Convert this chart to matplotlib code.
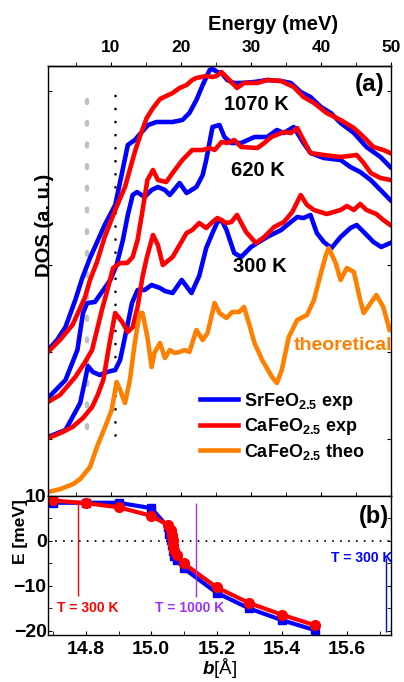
import numpy as np
import matplotlib
matplotlib.use("Agg")
import matplotlib.pyplot as plt
from matplotlib.ticker import MultipleLocator

plt.rcParams['font.family'] = ['Liberation Sans', 'DejaVu Sans']
plt.rcParams['font.weight'] = 'bold'
plt.rcParams['mathtext.fontset'] = 'custom'
plt.rcParams['mathtext.rm'] = 'Liberation Sans:bold'
plt.rcParams['mathtext.it'] = 'Liberation Sans:italic:bold'
plt.rcParams['mathtext.bf'] = 'Liberation Sans:bold'
plt.rcParams['lines.scale_dashes'] = False
plt.rcParams['axes.linewidth'] = 1.0

BLUE = '#0000ff'
RED = '#ff0000'
ORANGE = '#ff8000'
PURPLE = '#9b30ff'

# ---- (a) phonon DOS, stacked by temperature (energy in meV, DOS in a.u.) ----
e_sr_1070 = [1.0, 2.3, 3.5, 4.9, 5.9, 7.0, 7.7, 9.1, 10.6, 11.6, 12.4, 13.4, 14.4, 15.3, 16.5, 18.8,
             20.2, 21.2, 22.2, 23.1, 24.1, 24.5, 25.2, 25.8, 26.6, 27.6, 28.6, 30.5, 32.3, 34.3,
             35.7, 37.1, 38.5, 40.0, 41.4, 42.8, 44.7, 46.5, 48.5, 49.9]
d_sr_1070 = [14.6, 15.6, 16.9, 19.6, 21.8, 23.8, 24.9, 27.1, 29.1, 32.4, 35.1, 35.6, 36.4, 37.1, 37.4, 37.4,
             37.6, 38.3, 39.6, 41.1, 42.6, 42.7, 42.4, 42.3, 41.6, 41.3, 41.3, 41.4, 41.6, 41.5,
             41.3, 40.4, 39.9, 38.9, 38.3, 37.3, 36.3, 34.9, 33.9, 32.9]

e_ca_1070 = [1.0, 2.7, 4.5, 6.3, 7.0, 8.0, 9.1, 10.6, 12.0, 13.4, 14.1, 15.1, 16.0, 17.0, 18.8, 19.8,
             20.8, 21.6, 22.2, 23.6, 24.5, 25.1, 25.8, 26.9, 28.0, 29.0, 30.9, 32.3, 34.3, 36.1,
             37.5, 39.0, 40.8, 42.8, 44.7, 46.1, 47.5, 48.9, 49.9]
d_ca_1070 = [14.4, 15.6, 17.1, 19.9, 21.6, 23.4, 25.9, 28.6, 30.9, 34.4, 35.9, 37.8, 38.8, 39.7, 40.3, 40.8,
             41.1, 41.6, 41.8, 42.0, 41.9, 42.0, 42.4, 41.6, 40.8, 41.3, 41.3, 41.6, 41.5, 40.9,
             39.9, 39.3, 38.3, 37.6, 36.8, 35.9, 34.9, 34.6, 34.3]

e_sr_620 = [1.0, 3.5, 5.2, 6.0, 6.6, 7.7, 8.9, 9.9, 10.8, 11.7, 12.4, 13.1, 13.7, 14.8, 15.8, 16.7,
            17.7, 18.4, 19.8, 20.8, 22.2, 23.1, 23.6, 24.5, 25.5, 26.2, 27.2, 28.6, 30.5, 32.3,
            33.7, 34.7, 36.1, 37.5, 38.5, 40.4, 42.8, 44.2, 45.6, 47.1, 48.5, 49.9]
d_sr_620 = [9.8, 11.6, 14.6, 18.3, 19.3, 19.4, 20.6, 21.6, 23.1, 25.6, 28.1, 30.1, 30.4, 29.9, 30.6, 30.9,
            30.6, 30.1, 31.3, 30.3, 30.9, 32.1, 33.6, 36.9, 37.1, 35.9, 35.3, 35.3, 35.9, 35.9,
            36.6, 36.3, 36.9, 35.3, 34.3, 33.8, 33.6, 32.9, 32.4, 31.6, 30.6, 29.6]

e_ca_620 = [1.0, 2.7, 4.9, 6.3, 7.3, 8.0, 8.7, 9.6, 10.3, 11.3, 12.3, 13.1, 13.8, 14.4, 15.2, 16.0,
            16.7, 17.9, 18.8, 20.2, 21.6, 23.1, 24.1, 24.8, 25.8, 26.6, 27.6, 28.6, 30.9, 31.9,
            32.9, 34.7, 35.7, 36.6, 37.5, 38.5, 40.4, 42.8, 45.1, 46.1, 47.1, 48.5, 49.9]
d_ca_620 = [9.4, 10.1, 11.9, 13.4, 14.6, 16.6, 18.6, 20.9, 22.8, 23.3, 23.3, 23.9, 25.6, 28.1, 31.6, 32.6,
            31.6, 31.4, 32.3, 33.6, 34.6, 34.6, 34.8, 34.6, 35.4, 35.3, 35.6, 34.9, 34.8, 35.3,
            35.9, 36.4, 36.3, 36.8, 35.6, 34.3, 34.1, 33.9, 34.1, 33.3, 32.3, 31.8, 31.6]

e_sr_300 = [1.0, 3.5, 5.6, 6.3, 6.7, 7.4, 8.4, 9.4, 10.6, 11.3, 12.0, 13.0, 13.8, 14.8, 15.8, 17.0,
            17.7, 18.8, 20.1, 21.5, 22.6, 23.6, 24.5, 25.2, 25.8, 26.5, 27.6, 28.6, 30.0, 30.9,
            32.3, 34.3, 35.7, 36.6, 37.5, 38.5, 39.4, 40.4, 41.5, 42.8, 44.2, 45.1, 46.1, 47.5,
            48.6, 49.9]
d_sr_300 = [5.9, 6.6, 9.3, 11.6, 13.0, 12.4, 12.1, 12.4, 12.6, 13.6, 15.9, 19.3, 20.6, 20.6, 21.1, 20.8,
            20.5, 20.3, 21.6, 20.3, 22.0, 24.8, 26.3, 27.4, 27.6, 26.6, 24.3, 23.9, 24.9, 25.3,
            25.9, 26.6, 27.4, 27.9, 27.8, 28.1, 26.3, 25.4, 24.8, 25.9, 26.8, 27.1, 26.4, 25.4,
            24.9, 25.3]

e_ca_300 = [1.0, 2.8, 4.5, 6.0, 7.3, 8.1, 8.9, 9.8, 10.6, 11.6, 12.4, 13.1, 13.8, 14.5, 15.1, 16.0,
            16.7, 17.4, 18.8, 19.8, 20.8, 21.6, 22.6, 23.6, 24.5, 25.2, 26.5, 27.2, 28.0, 29.3,
            30.7, 31.9, 33.3, 34.7, 35.9, 37.1, 38.0, 39.0, 40.8, 42.8, 43.7, 44.7, 45.6, 46.5,
            47.9, 48.9, 49.9]
d_ca_300 = [5.8, 6.3, 6.9, 7.8, 8.9, 10.1, 11.6, 15.3, 18.3, 17.4, 16.4, 16.9, 18.9, 21.9, 23.8, 26.1,
            25.1, 23.1, 23.9, 25.1, 26.3, 26.6, 27.3, 26.8, 27.4, 27.8, 27.3, 27.4, 28.1, 26.4,
            25.3, 25.9, 26.9, 27.4, 28.4, 30.1, 29.1, 28.6, 28.2, 28.6, 29.0, 28.6, 29.2, 28.6,
            28.2, 27.6, 27.1]

e_theo = [1.0, 2.8, 4.6, 5.6, 7.0, 8.1, 9.1, 10.1, 10.8, 11.3, 12.0, 12.7, 13.4, 14.1, 14.5, 15.2,
          15.8, 16.2, 17.0, 17.7, 18.4, 19.1, 19.8, 20.5, 21.2, 22.2, 23.1, 23.8, 24.8, 25.5,
          26.5, 27.3, 28.3, 29.0, 29.7, 30.5, 31.6, 33.0, 33.7, 34.4, 35.4, 36.6, 38.0, 39.0,
          40.0, 40.7, 41.1, 42.1, 42.8, 43.7, 44.7, 45.6, 46.1, 47.1, 47.9, 48.9, 49.8]
d_theo = [0.4, 0.7, 1.2, 1.7, 2.9, 5.1, 6.8, 8.6, 11.4, 10.6, 9.3, 11.6, 15.3, 18.3, 18.3, 15.9,
          12.9, 14.3, 15.3, 13.8, 14.6, 14.3, 14.4, 14.6, 14.4, 16.6, 15.6, 16.3, 19.3, 18.3,
          17.8, 18.4, 18.4, 18.9, 17.3, 15.3, 13.6, 11.9, 11.3, 12.6, 15.9, 17.6, 18.1, 19.6,
          22.3, 24.1, 24.8, 23.3, 21.6, 22.8, 22.4, 19.6, 18.3, 19.3, 20.1, 18.9, 16.6]

e_gray = 6.5
e_black = 10.6

# ---- (b) E vs b lattice parameter ----
b_sr = [14.7, 14.8, 14.9, 15.0, 15.05, 15.055, 15.06, 15.063, 15.066, 15.07, 15.08, 15.1, 15.2, 15.3, 15.4, 15.5]
E_sr = [8.5, 8.5, 8.5, 7.3, 3.2, 1.5, 0.3, -1.0, -2.2, -3.3, -4.3, -6.1, -11.5, -15.0, -17.6, -19.8]
b_ca = [14.7, 14.8, 14.9, 15.0, 15.05, 15.06, 15.063, 15.066, 15.068, 15.07, 15.08, 15.1, 15.2, 15.3, 15.4, 15.5]
E_ca = [9.0, 8.4, 7.5, 5.6, 3.6, 2.4, 1.3, 0.2, -0.9, -2.0, -3.1, -5.0, -10.3, -13.8, -16.4, -18.7]

b_marks = [14.776, 15.136, 15.719]
mark_lo = [-12.2, -12.4, -20.2]
mark_hi = [8.4, 8.4, -3.8]
mark_col = [RED, PURPLE, BLUE]
mark_txt = ['T = 300 K', 'T = 1000 K', 'T = 300 K']
txt_pos = [(14.806, -14.9), (15.118, -14.9), (15.643, -3.8)]

fig = plt.figure(figsize=(4.04, 6.82), dpi=100)
ax1 = fig.add_axes([48 / 404, 1 - 496 / 682, 343 / 404, 430 / 682])
ax2 = fig.add_axes([48 / 404, 1 - 635 / 682, 343 / 404, 139 / 682])

lw = 3.3
ax1.plot([e_gray, e_gray], [6.8, 39.7], color='#c0c0c0', lw=3.2, ls=(0, (2.0, 13.6)),
         dash_capstyle='round')
ax1.plot([e_black, e_black], [6.1, 40.2], color='k', lw=1.9, ls=(0, (0.1, 9.3)),
         dash_capstyle='round')

ax1.plot(e_sr_1070, d_sr_1070, color=BLUE, lw=lw, label=r'SrFeO$_{2.5}$ exp')
ax1.plot(e_sr_620, d_sr_620, color=BLUE, lw=lw)
ax1.plot(e_sr_300, d_sr_300, color=BLUE, lw=lw)
ax1.plot(e_ca_1070, d_ca_1070, color=RED, lw=lw, label=r'CaFeO$_{2.5}$ exp')
ax1.plot(e_ca_620, d_ca_620, color=RED, lw=lw)
ax1.plot(e_ca_300, d_ca_300, color=RED, lw=lw)
ax1.plot(e_theo, d_theo, color=ORANGE, lw=lw, label=r'CaFeO$_{2.5}$ theo')

ax1.text(30.7, 39.1, '1070 K', fontsize=14.5, ha='center', va='center')
ax1.text(31.0, 32.6, '620 K', fontsize=14.5, ha='center', va='center')
ax1.text(31.3, 22.9, '300 K', fontsize=14.5, ha='center', va='center')
ax1.text(43.1, 15.1, 'theoretical', fontsize=14, color=ORANGE, ha='center', va='center')
ax1.text(0.939, 0.958, '(a)', transform=ax1.transAxes, fontsize=17.5, ha='center', va='center')

ax1.legend(loc='upper left', bbox_to_anchor=(152 / 343, 0.245), frameon=False, fontsize=13,
           handlelength=2.1, handletextpad=0.35, labelspacing=0.25, borderpad=0, borderaxespad=0)

ax1.set_xlim(1, 50)
ax1.set_ylim(0, 43)
ax1.set_yticks(np.arange(5.7, 45, 8.7))
ax1.tick_params(axis='y', which='both', left=True, right=True, labelleft=False,
                direction='in', length=3)
ax1.xaxis.set_major_locator(MultipleLocator(10))
ax1.xaxis.set_minor_locator(MultipleLocator(5))
ax1.tick_params(axis='x', which='both', bottom=True, top=False, labelbottom=False,
                direction='in', length=3)

top = ax1.secondary_xaxis('top')
top.set_xticks([10, 20, 30, 40, 50])
top.xaxis.set_minor_locator(MultipleLocator(5))
top.tick_params(which='both', direction='out', length=3, labelsize=12.5, pad=5)

fig.text(273 / 404, 1 - 24 / 682, 'Energy (meV)', fontsize=14.5, ha='center', va='center')
fig.text(44 / 404, 1 - 225 / 682, 'DOS (a. u.)', fontsize=14.5, rotation=90,
         ha='center', va='center')

# panel (b)
ax2.axhline(0, color='k', lw=1.4, ls=(0, (0.1, 5.6)), dash_capstyle='round')
ax2.plot(b_sr, E_sr, color=BLUE, lw=3, marker='s', ms=5.5)
ax2.plot(b_ca, E_ca, color=RED, lw=3, marker='o', ms=7)
for b, lo, hi, c, t, (tx, ty) in zip(b_marks, mark_lo, mark_hi, mark_col, mark_txt, txt_pos):
    ax2.vlines(b, lo, hi, color=c, lw=1.0)
    ax2.text(tx, ty, t, color=c, fontsize=10, ha='center', va='center')
ax2.text(0.950, 0.856, '(b)', transform=ax2.transAxes, fontsize=17, ha='center', va='center')

ax2.set_xlim(14.684, 15.734)
ax2.set_ylim(-20.9, 10)
ax2.xaxis.set_major_locator(MultipleLocator(0.2))
ax2.xaxis.set_minor_locator(MultipleLocator(0.1))
ax2.yaxis.set_major_locator(MultipleLocator(10))
ax2.yaxis.set_minor_locator(MultipleLocator(5))
ax2.tick_params(which='both', direction='in', left=True, right=True, top=False,
                labelsize=14, length=3)
ax2.tick_params(axis='y', pad=1)
ax2.tick_params(axis='x', pad=4)
ax2.set_xlabel(r'$b$[Å]', fontsize=13.5, labelpad=-1)
fig.text(20 / 404, 1 - 532 / 682, 'E [meV]', fontsize=12.5, rotation=90,
         ha='center', va='center')

fig.savefig('out.png', dpi=100)
